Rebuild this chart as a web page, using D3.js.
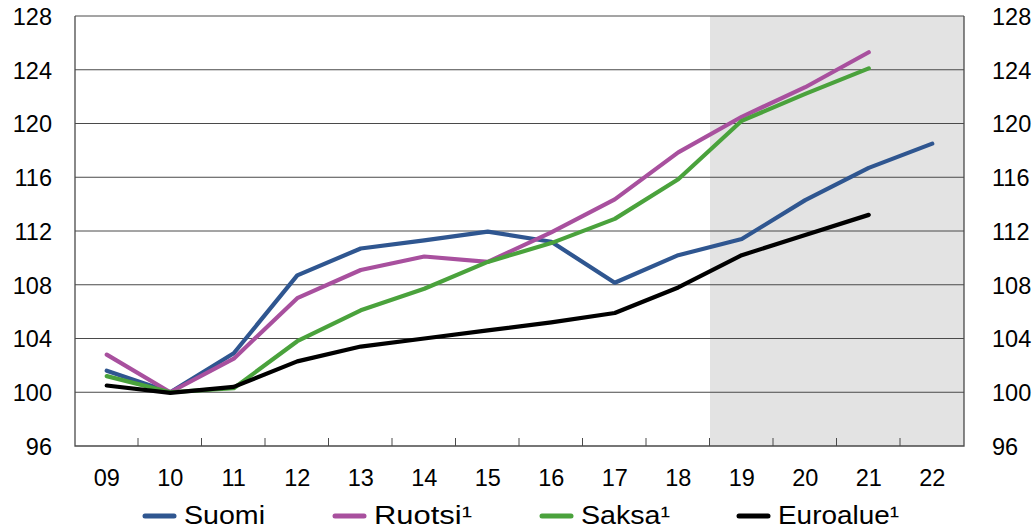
<!DOCTYPE html>
<html>
<head>
<meta charset="utf-8">
<script src="https://cdn.jsdelivr.net/npm/d3@7"></script>
<style>
  body { margin: 0; background: #fff; }
  text { font-family: "Liberation Sans", Arial, sans-serif; fill: #000; }
</style>
</head>
<body>
<svg id="chart" width="1035" height="529"></svg>
<script>
// Years on the x axis (two-digit labels) and y ticks
const years = ["09", "10", "11", "12", "13", "14", "15", "16", "17", "18", "19", "20", "21", "22"]
const yTicks = [96, 100, 104, 108, 112, 116, 120, 124, 128]
const forecastFrom = "19"

// Series values (index, 2010 = 100)
const suomi = [101.6, 100, 102.9, 108.7, 110.7, 111.3, 111.95, 111.2, 108.15, 110.2, 111.4, 114.3, 116.7, 118.5]
const ruotsi = [102.8, 100, 102.5, 107.0, 109.1, 110.1, 109.7, 111.9, 114.35, 117.85, 120.5, 122.7, 125.3, null]
const saksa = [101.2, 100, 100.3, 103.8, 106.1, 107.7, 109.7, 111.1, 112.9, 115.85, 120.2, 122.2, 124.1, null]
const euroalue = [100.5, 99.95, 100.4, 102.3, 103.4, 104.0, 104.6, 105.2, 105.9, 107.8, 110.2, 111.7, 113.2, null]

const seriesNames = ["Suomi", "Ruotsi¹", "Saksa¹", "Euroalue¹"]
const seriesValues = [suomi, ruotsi, saksa, euroalue]
const seriesColors = ["#2f5690", "#a8509e", "#4aa23c", "#000000"]

const svg = d3.select("#chart")
const plot = { left: 75, right: 964, top: 16, bottom: 446 }
const fs = 23.5

const x = d3.scaleBand().domain(years).range([plot.left, plot.right]).padding(0)
const y = d3.scaleLinear().domain([96, 128]).range([plot.bottom, plot.top])

// shaded forecast area
svg.append("rect")
  .attr("x", x(forecastFrom))
  .attr("y", plot.top)
  .attr("width", plot.right - x(forecastFrom))
  .attr("height", plot.bottom - plot.top)
  .attr("fill", "#e3e3e3")

// gridlines
svg.append("g")
  .selectAll("line")
  .data(yTicks.filter(t => t > 96))
  .join("line")
  .attr("x1", plot.left).attr("x2", plot.right)
  .attr("y1", d => y(d)).attr("y2", d => y(d))
  .attr("stroke", "#4a4a4a")
  .attr("stroke-width", 1)

// left / right axis labels
const axisL = d3.axisLeft(y).tickValues(yTicks).tickSize(0).tickPadding(0)
const gl = svg.append("g").attr("transform", `translate(${plot.left - 23},0)`).call(axisL)
gl.select(".domain").remove()
gl.selectAll("text").attr("font-size", fs).attr("dy", "0.36em")

const axisR = d3.axisRight(y).tickValues(yTicks).tickSize(0).tickPadding(0)
const gr = svg.append("g").attr("transform", `translate(${plot.right + 28},0)`).call(axisR)
gr.select(".domain").remove()
gr.selectAll("text").attr("font-size", fs).attr("dy", "0.36em")

// bottom axis: inner ticks at category boundaries, labels at centers
const axisB = d3.axisBottom(x).tickSize(0).tickPadding(0)
const gb = svg.append("g").attr("transform", `translate(0,${plot.bottom})`).call(axisB)
gb.select(".domain").remove()
gb.selectAll("text").attr("font-size", fs).attr("dy", "1.72em")

svg.append("g")
  .selectAll("line")
  .data(years.slice(1))
  .join("line")
  .attr("x1", d => x(d) - 0.5).attr("x2", d => x(d) - 0.5)
  .attr("y1", plot.bottom).attr("y2", plot.bottom - 8)
  .attr("stroke", "#4a4a4a")
  .attr("stroke-width", 1)

// frame: left, right, bottom
svg.append("path")
  .attr("d", `M${plot.left},${plot.top}V${plot.bottom}H${plot.right}V${plot.top}`)
  .attr("fill", "none")
  .attr("stroke", "#4a4a4a")
  .attr("stroke-width", 1.3)

// lines
const line = d3.line()
  .defined(d => d.v != null)
  .x(d => x(d.k) + x.bandwidth() / 2)
  .y(d => y(d.v))

seriesValues.forEach((vals, i) => {
  svg.append("path")
    .datum(vals.map((v, j) => ({ k: years[j], v })))
    .attr("d", line)
    .attr("fill", "none")
    .attr("stroke", seriesColors[i])
    .attr("stroke-width", 4.2)
    .attr("stroke-linejoin", "round")
    .attr("stroke-linecap", "round")
})

// legend
const legendX = [143, 333, 540, 737]
const lg = svg.append("g").attr("transform", "translate(0,515)")
seriesNames.forEach((name, i) => {
  const g = lg.append("g").attr("transform", `translate(${legendX[i]},0)`)
  g.append("line")
    .attr("x1", 2).attr("x2", 31).attr("y1", 1).attr("y2", 1)
    .attr("stroke", seriesColors[i]).attr("stroke-width", 5)
    .attr("stroke-linecap", "round")
  g.append("text")
    .attr("x", 41).attr("y", 0).attr("dy", "0.36em")
    .attr("font-size", 25.5)
    .attr("textLength", [81, 98, 89, 121][i])
    .attr("lengthAdjust", "spacingAndGlyphs")
    .text(name)
})
</script>
</body>
</html>
